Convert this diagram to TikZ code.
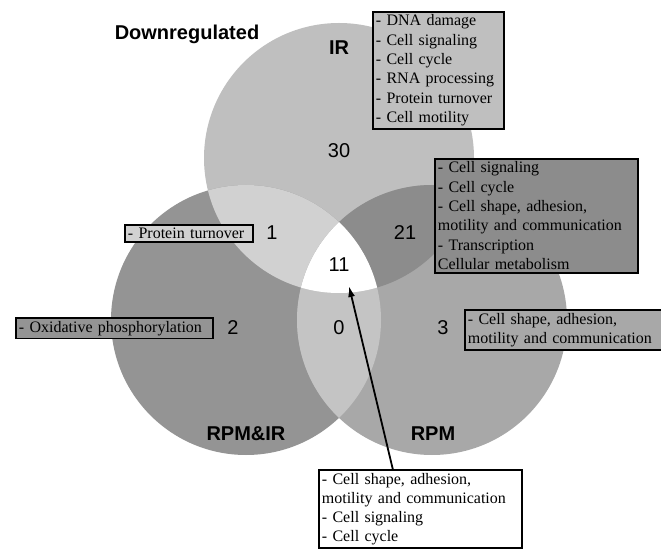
\documentclass[tikz,border=0pt]{standalone}
\usepackage{fontspec}
\setmainfont{Liberation Serif}
\newfontfamily\lsans{Liberation Sans}
\usetikzlibrary{arrows.meta,calc}
\definecolor{cIR}{gray}{0.75}
\definecolor{cL}{gray}{0.58}
\definecolor{cR}{gray}{0.66}
\definecolor{cIL}{gray}{0.82}
\definecolor{cIRR}{gray}{0.55}
\definecolor{cLR}{gray}{0.77}
\begin{document}
\begin{tikzpicture}[x=1pt,y=-1pt,
  lab/.style={font=\lsans\bfseries\fontsize{20}{24}\selectfont},
  num/.style={font=\lsans\fontsize{20}{24}\selectfont},
  infobox/.style={draw=black, line width=1.8pt, anchor=north west, align=left,
    inner xsep=3pt, inner ysep=3pt, font=\fontsize{16}{19.3}\selectfont}]
\useasboundingbox (0,0) rectangle (661,553);
\coordinate (cI) at (339,158);
\coordinate (cL) at (246,320);
\coordinate (cR) at (432,320);
% circles
\fill[cIR] (cI) circle (135pt);
\fill[cL] (cL) circle (135pt);
\fill[cR] (cR) circle (135pt);
\begin{scope}
  \clip (cI) circle (135pt);
  \fill[cIL] (cL) circle (135pt);
  \fill[cIRR] (cR) circle (135pt);
\end{scope}
\begin{scope}
  \clip (cL) circle (135pt);
  \fill[cLR] (cR) circle (135pt);
  \clip (cI) circle (135pt);
  \fill[white] (cR) circle (135pt);
\end{scope}
% labels
\node[lab] (down) at (187,34) {Downregulated};
\node[lab] (ir) at (339,48) {IR};
\node[lab] (rpmir) at (246,434) {RPM\&IR};
\node[lab] (rpm) at (433,434) {RPM};
% numbers
\node[num] (n30) at (339,151) {30};
\node[num] (n1) at (272,233) {1};
\node[num] (n21) at (405,233) {21};
\node[num] (n11) at (339,265) {11};
\node[num] (n2) at (233,328) {2};
\node[num] (n0) at (339,328) {0};
\node[num] (n3) at (443,328) {3};
% boxes
\node[infobox, fill=cIR, text width=125pt] (bIR) at (372,11)
  {- DNA damage\\- Cell signaling\\- Cell cycle\\- RNA processing\\- Protein turnover\\- Cell motility};
\node[infobox, fill=cIRR, text width=197pt] (b21) at (434,158)
  {- Cell signaling\\- Cell cycle\\- Cell shape, adhesion,\\motility and communication\\- Transcription\\Cellular metabolism};
\node[infobox, fill=cIL, text width=122pt] (b1) at (124,224)
  {- Protein turnover};
\node[infobox, fill=cL, text width=191pt] (b2) at (15,317)
  {- Oxidative phosphorylation};
\node[infobox, fill=cR, text width=191pt] (b3) at (464,309)
  {- Cell shape, adhesion,\\motility and communication};
\node[infobox, fill=white, text width=197pt] (bbot) at (318,469)
  {- Cell shape, adhesion,\\motility and communication\\- Cell signaling\\- Cell cycle};
% arrow
\coordinate (tip) at (349,286);
\draw[line width=1.8pt, -{Latex[length=11pt,width=7pt]}]
  ($(bbot.north west)!0.365!(bbot.north east)$) -- (tip);
\end{tikzpicture}
\end{document}
